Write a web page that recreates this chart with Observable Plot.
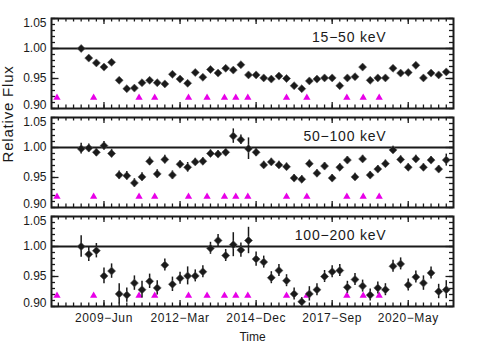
<!DOCTYPE html>
<html><head><meta charset="utf-8">
<script src="https://cdn.jsdelivr.net/npm/d3@7"></script>
<script src="https://cdn.jsdelivr.net/npm/@observablehq/plot@0.6"></script>
<style>
body{margin:0;background:#fff}
#chart svg g[aria-label="x-axis tick label"]{letter-spacing:0.6px}
#chart svg g[aria-label="text"]{letter-spacing:0.8px}
</style>
</head><body><div id="chart"></div>
<script>
// Energy bands (panel order, top to bottom)
const bands = ["15−50 keV", "50−100 keV", "100−200 keV"];

// Observation times (MJD)
const times = [54700,54800,54900,55000,55100,55200,55300,55400,55500,55600,
  55700,55800,55900,56000,56100,56200,56300,56400,56500,56600,
  56700,56800,56900,57000,57100,57200,57300,57400,57500,57600,
  57700,57800,57900,58000,58100,58200,58300,58400,58500,58600,
  58700,58800,58900,59000,59100,59200,59300,59400,59500];

const flux15_50 = [1.000,0.984,0.976,0.969,0.977,0.947,0.933,0.934,0.943,0.947,
  0.943,0.941,0.957,0.949,0.942,0.960,0.952,0.965,0.959,0.967,
  0.964,0.973,0.956,0.956,0.951,0.949,0.954,0.950,0.938,0.933,
  0.946,0.949,0.951,0.951,0.938,0.951,0.953,0.969,0.947,0.951,
  0.951,0.967,0.959,0.960,0.972,0.951,0.959,0.956,0.961];
const err15_50 = [0.003,0.003,0.003,0.003,0.003,0.003,0.003,0.003,0.003,0.003,
  0.003,0.003,0.003,0.003,0.003,0.003,0.003,0.003,0.003,0.003,
  0.003,0.003,0.003,0.003,0.003,0.003,0.003,0.003,0.003,0.003,
  0.003,0.003,0.003,0.003,0.003,0.003,0.003,0.003,0.003,0.003,
  0.003,0.003,0.003,0.003,0.003,0.003,0.003,0.003,0.003];

const flux50_100 = [0.998,0.999,0.992,1.003,0.990,0.954,0.953,0.941,0.951,0.977,
  0.956,0.980,0.954,0.972,0.967,0.976,0.977,0.990,0.989,0.992,
  1.019,1.013,0.998,0.992,0.971,0.976,0.971,0.968,0.949,0.947,
  0.973,0.957,0.969,0.949,0.967,0.979,0.951,0.981,0.954,0.964,
  0.973,0.996,0.980,0.967,0.981,0.967,0.979,0.964,0.979];
const err50_100 = [0.009,0.007,0.007,0.007,0.007,0.007,0.007,0.007,0.007,0.007,
  0.007,0.007,0.007,0.006,0.008,0.006,0.006,0.006,0.006,0.006,
  0.012,0.008,0.018,0.007,0.006,0.006,0.006,0.006,0.006,0.006,
  0.006,0.006,0.006,0.006,0.006,0.006,0.006,0.006,0.006,0.006,
  0.006,0.006,0.006,0.006,0.006,0.006,0.006,0.006,0.010];

const flux100_200 = [1.000,0.987,0.993,0.951,0.959,0.921,0.919,0.939,0.928,0.942,
  0.931,0.969,0.937,0.947,0.951,0.951,0.958,0.997,1.010,0.985,
  1.003,0.994,1.010,0.979,0.974,0.948,0.960,0.943,0.921,0.908,
  0.921,0.928,0.950,0.958,0.960,0.932,0.945,0.934,0.919,0.931,
  0.928,0.967,0.971,0.936,0.949,0.939,0.956,0.925,0.928];
const err100_200 = [0.018,0.012,0.012,0.013,0.012,0.017,0.012,0.012,0.014,0.012,
  0.012,0.010,0.012,0.010,0.015,0.010,0.010,0.010,0.010,0.010,
  0.020,0.012,0.022,0.012,0.010,0.010,0.010,0.010,0.010,0.007,
  0.012,0.010,0.010,0.010,0.010,0.010,0.010,0.010,0.010,0.010,
  0.010,0.010,0.010,0.010,0.010,0.012,0.010,0.012,0.015];

// Event markers (MJD) and their plotted level
const eventTimes = [54382,54864,55461,55667,56111,56355,56584,56733,56891,57400,57667,58193,58408,58618];
const eventLevel = 0.918;

// Axis ticks
const xMajorTicks = [55000,56000,57000,58000,59000];
const xTickLabels = ["2009−Jun","2012−Mar","2014−Dec","2017−Sep","2020−May"];
const yMajorTicks = [0.90,0.95,1.00,1.05];

const fluxes = [flux15_50, flux50_100, flux100_200];
const errs = [err15_50, err50_100, err100_200];
const rows = [];
bands.forEach((b, k) => times.forEach((t, i) => rows.push({band: b, t, f: fluxes[k][i], e: errs[k][i]})));
const events = [];
bands.forEach(b => eventTimes.forEach(t => events.push({band: b, t, y: eventLevel})));

const xMinor = d3.range(54400, 59600, 100);
const yMinor = d3.range(90, 106).map(v => v / 100);
const labelOf = new Map(xMajorTicks.map((t, i) => [t, xTickLabels[i]]));
const ink = "#1a1a1a";

// layout
const W = 504, H = 360, mL = 51, mR = 51, mT = 18, mB = 54;
const plotW = W - mL - mR, panelH = 90;
const xDomain = [54310, 59595], yDomain = [0.90, 1.05];
// pixel length -> data length, for inward tick marks drawn on the frame
const dy = px => px * (yDomain[1] - yDomain[0]) / panelH;
const dx = px => px * (xDomain[1] - xDomain[0]) / plotW;

const xt = (ticks, len, side) => Plot.ruleX(ticks, {x: d => d, stroke: ink, strokeWidth: 1.3,
  y1: side === "bottom" ? yDomain[0] : yDomain[1] - dy(len),
  y2: side === "bottom" ? yDomain[0] + dy(len) : yDomain[1]});
const yt = (ticks, len, side) => Plot.ruleY(ticks, {y: d => d, stroke: ink, strokeWidth: 1.3,
  x1: side === "left" ? xDomain[0] : xDomain[1] - dx(len),
  x2: side === "left" ? xDomain[0] + dx(len) : xDomain[1]});

const chart = Plot.plot({
  width: W, height: H,
  marginLeft: mL, marginRight: mR, marginTop: mT, marginBottom: mB,
  style: {fontFamily: "'Liberation Sans', Arial, Helvetica, sans-serif", fontSize: "12px", color: ink, background: "#fff", overflow: "visible"},
  x: {domain: xDomain},
  y: {domain: yDomain},
  fy: {domain: bands, paddingInner: 0.0909, paddingOuter: 0, round: false, axis: null},
  marks: [
    Plot.ruleY([1], {stroke: ink, strokeWidth: 2}),
    xt(xMinor, 3.5, "bottom"), xt(xMinor, 3.5, "top"),
    xt(xMajorTicks, 6, "bottom"), xt(xMajorTicks, 6, "top"),
    yt(yMinor, 4, "left"), yt(yMinor, 4, "right"),
    yt(yMajorTicks, 7.5, "left"), yt(yMajorTicks, 7.5, "right"),
    Plot.frame({stroke: ink, strokeWidth: 2}),
    Plot.axisX(xMajorTicks, {anchor: "bottom", tickSize: 0, tickPadding: 7, tickFormat: d => labelOf.get(d),
      label: "Time", labelAnchor: "center", labelOffset: 34, labelArrow: "none", fontSize: 12}),
    Plot.axisY([0.95, 1.00], {anchor: "left", tickSize: 0, tickPadding: 5, tickFormat: ".2f", label: null, fontSize: 12}),
    Plot.axisY([1.05], {anchor: "left", tickSize: 0, tickPadding: 5, tickFormat: ".2f", label: null, fontSize: 12, dy: 5}),
    Plot.axisY([0.90], {anchor: "left", tickSize: 0, tickPadding: 5, tickFormat: ".2f", label: null, fontSize: 12, dy: -3}),
    Plot.dot(events, {x: "t", y: "y", fy: "band", symbol: "triangle", r: 2.7, fill: "#e800e8", stroke: "none"}),
    Plot.ruleX(rows, {x: "t", y1: d => d.f - d.e, y2: d => d.f + d.e, fy: "band", stroke: ink, strokeWidth: 1.5}),
    Plot.dot(rows, {x: "t", y: "f", fy: "band", symbol: "diamond2", r: 3.6, fill: ink, stroke: "#555", strokeWidth: 0.6}),
    Plot.text(bands, {fy: d => d, text: d => d, frameAnchor: "top-right", textAnchor: "end", lineAnchor: "middle", dx: -67, dy: 19, fontSize: 14, fill: ink}),
    Plot.text(["Relative Flux"], {fy: () => bands[1], text: d => d, frameAnchor: "left", rotate: -90, dx: -43, fontSize: 15, fill: ink})
  ]
});
document.getElementById("chart").append(chart);
</script>
</body></html>
